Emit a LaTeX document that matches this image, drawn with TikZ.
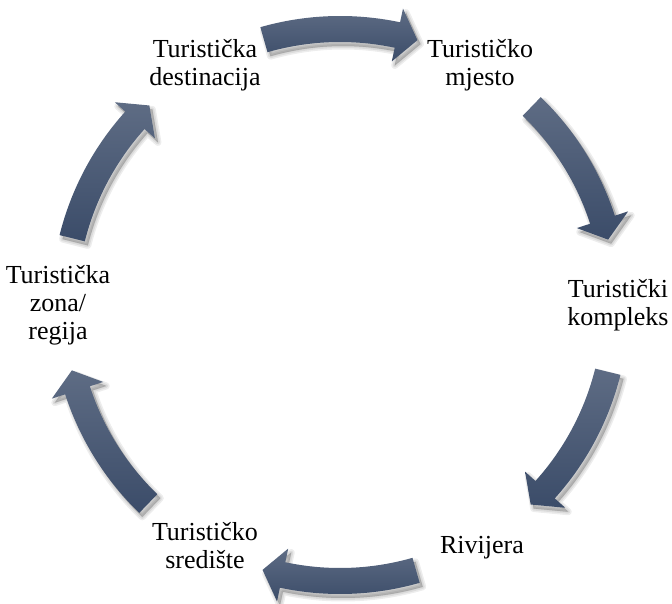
\documentclass[tikz,border=0pt]{standalone}
\usepackage{fontspec}
\setmainfont{Liberation Serif}
\begin{document}
\begin{tikzpicture}[x=1pt,y=1pt,
  lbl/.style={align=center, inner sep=0pt, font=\fontsize{26}{28}\selectfont},
  arrowshape/.style={top color=arrowtop, bottom color=arrowbot, draw=none},
  shadowshape/.style={fill=black, fill opacity=0.07, draw=black, draw opacity=0.07, line join=round}]
\definecolor{arrowtop}{HTML}{5E6C84}
\definecolor{arrowbot}{HTML}{3B4C69}
\useasboundingbox (0,0) rectangle (672,603);
\coordinate (C) at (340,298);
% curved block arrows
\foreach \c in {90,30,-30,-90,-150,-210}{
  \pgfmathsetmacro{\ta}{\c+16}
  \pgfmathsetmacro{\ba}{\c-12}
  \pgfmathsetmacro{\pa}{\c-16.3}
  \begin{scope}[shift={(C)}]
    \foreach \lw/\dx/\dy in {7/3/-4,4/3/-4,1/3/-4}{
      \path[shadowshape, line width=\lw, shift={(\dx,\dy)}]
        (\ta:289) arc[start angle=\ta, end angle=\ba, radius=289]
        -- (\ba:303) -- (\pa:276) -- (\ba:249) -- (\ba:263)
        arc[start angle=\ba, end angle=\ta, radius=263] -- cycle;
    }
    \path[arrowshape]
      (\ta:289) arc[start angle=\ta, end angle=\ba, radius=289]
      -- (\ba:303) -- (\pa:276) -- (\ba:249) -- (\ba:263)
      arc[start angle=\ba, end angle=\ta, radius=263] -- cycle;
  \end{scope}
}
% labels
\node[lbl] (dest) at (205,538) {Turistička\\destinacija};
\node[lbl] (mjesto) at (480,538) {Turističko\\mjesto};
\node[lbl] (kompleks) at (618,298) {Turistički\\kompleks};
\node[lbl] (rivijera) at (482,55) {Rivijera};
\node[lbl] (srediste) at (205,57) {Turističko\\središte};
\node[lbl] (zona) at (58,298) {Turistička\\zona/\\regija};
\end{tikzpicture}
\end{document}
